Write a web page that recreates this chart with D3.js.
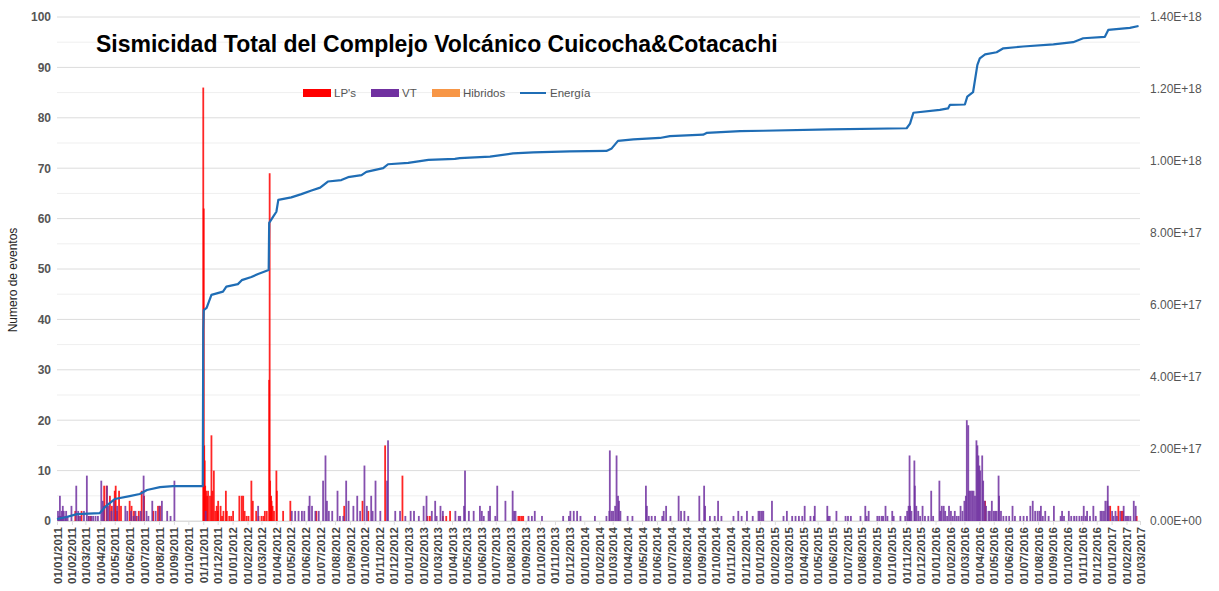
<!DOCTYPE html>
<html lang="es">
<head>
<meta charset="UTF-8">
<script src="https://d3js.org/d3.v7.min.js"></script>
<style>
  body { margin: 0; background: #fff; }
  text { font-family: "Liberation Sans", Arial, sans-serif; }
</style>
</head>
<body>
<div id="chart"></div>
<script>
// ---- data ----
var title = "Sismicidad Total del Complejo Volcánico Cuicocha&Cotacachi";
var seriesNames = ["LP's", "VT", "Hibridos", "Energía"];
var seriesColors = ["#ff0000", "#7030a0", "#f79646", "#1f6db5"];
var leftTicks = [0, 10, 20, 30, 40, 50, 60, 70, 80, 90, 100];
var rightTicks = [0, 2e17, 4e17, 6e17, 8e17, 1e18, 1.2e18, 1.4e18];
var dateStart = "2011-01-01", dateEnd = "2017-03-01";

// daily LP events [date, count]
var lpData = [
  ["2011-02-08",2],["2011-02-15",1],["2011-02-21",2],["2011-03-08",1],["2011-03-12",1],
  ["2011-04-09",7],["2011-04-14",7],["2011-04-21",5],["2011-04-25",3],["2011-05-01",6],
  ["2011-05-03",7],["2011-05-06",2],["2011-05-10",6],["2011-05-14",3],["2011-06-01",4],
  ["2011-06-05",3],["2011-06-10",2],["2011-06-15",1],["2011-06-20",2],["2011-06-26",6],
  ["2011-07-01",5],["2011-07-20",2],["2011-07-30",3],["2011-08-03",3],
  ["2011-11-01",86],["2011-11-02",62],["2011-11-03",15],["2011-11-04",12],["2011-11-05",7],
  ["2011-11-07",6],["2011-11-09",5],["2011-11-11",6],["2011-11-15",5],["2011-11-18",17],
  ["2011-11-20",6],["2011-11-23",10],["2011-11-26",2],["2011-11-29",3],["2011-12-01",2],
  ["2011-12-02",4],["2011-12-07",3],["2011-12-10",1],["2011-12-13",2],["2011-12-18",6],
  ["2011-12-20",2],["2011-12-25",1],["2011-12-29",1],["2012-01-02",2],["2012-01-15",5],
  ["2012-01-20",5],["2012-01-23",5],["2012-01-26",2],["2012-01-30",1],["2012-02-03",1],
  ["2012-02-09",8],["2012-02-12",4],["2012-02-19",2],["2012-02-24",1],["2012-03-01",1],
  ["2012-03-05",1],["2012-03-08",2],["2012-03-12",2],["2012-03-17",28],["2012-03-18",69],
  ["2012-03-19",8],["2012-03-21",5],["2012-03-22",4],["2012-03-24",3],["2012-03-27",2],
  ["2012-04-01",10],["2012-04-02",6],["2012-04-15",2],["2012-04-30",4],["2012-06-23",2],
  ["2012-08-20",3],["2012-09-27",4],["2012-10-09",2],["2012-11-13",15],["2012-12-19",9],
  ["2013-02-09",1],["2013-02-14",1],["2013-03-13",1],["2013-03-20",1],["2013-03-28",2],
  ["2013-08-17",1],["2013-08-20",1],["2013-08-24",1],["2013-08-27",1],
  ["2016-04-13",4],["2016-12-29",3],["2017-01-15",3],["2017-01-22",2],["2017-01-25",2],
  ["2017-02-22",1]
];

// daily VT events [date, count]
var vtData = [
  ["2011-01-02",2],["2011-01-04",1],["2011-01-06",5],["2011-01-08",1],["2011-01-10",2],
  ["2011-01-12",3],["2011-01-14",2],["2011-01-17",1],["2011-01-19",2],["2011-01-22",1],
  ["2011-01-30",3],["2011-02-09",7],["2011-02-13",2],["2011-02-17",1],["2011-02-25",2],
  ["2011-03-03",9],["2011-03-07",1],["2011-03-12",1],["2011-03-16",1],["2011-03-21",1],
  ["2011-03-26",1],["2011-04-02",8],["2011-04-05",4],["2011-04-07",3],["2011-04-14",7],
  ["2011-04-17",3],["2011-04-23",2],["2011-04-28",4],["2011-05-05",3],["2011-05-22",3],
  ["2011-05-26",2],["2011-06-03",2],["2011-06-08",1],["2011-06-12",2],["2011-06-18",1],
  ["2011-06-23",2],["2011-06-29",9],["2011-07-05",2],["2011-07-09",1],["2011-07-17",4],
  ["2011-07-24",2],["2011-08-01",3],["2011-08-06",4],["2011-08-17",2],["2011-08-24",1],
  ["2011-09-01",8],["2011-11-05",2],["2012-02-22",3],
  ["2012-05-02",2],["2012-05-09",2],["2012-05-16",2],["2012-05-23",2],["2012-05-28",2],
  ["2012-06-06",3],["2012-06-08",5],["2012-06-13",3],["2012-06-20",2],["2012-06-27",2],
  ["2012-07-06",8],["2012-07-11",13],["2012-07-14",4],["2012-07-18",2],["2012-07-25",2],
  ["2012-08-05",6],["2012-08-10",1],["2012-08-17",1],["2012-08-23",8],["2012-08-28",4],
  ["2012-09-07",3],["2012-09-15",5],["2012-09-21",2],["2012-09-30",11],["2012-10-05",3],
  ["2012-10-14",5],["2012-10-17",2],["2012-10-23",8],["2012-11-02",2],["2012-11-16",8],
  ["2012-11-18",16],["2012-12-03",2],["2012-12-13",2],["2012-12-24",1],
  ["2013-01-04",2],["2013-01-11",2],["2013-01-21",1],["2013-01-31",3],["2013-02-06",5],
  ["2013-02-17",2],["2013-02-24",4],["2013-02-27",1],["2013-03-07",3],["2013-03-12",2],
  ["2013-04-07",2],["2013-04-14",1],["2013-04-17",1],["2013-04-25",3],["2013-04-27",10],
  ["2013-05-05",2],["2013-05-15",2],["2013-05-28",3],["2013-06-01",2],["2013-06-05",1],
  ["2013-06-15",2],["2013-06-18",3],["2013-06-29",1],["2013-07-03",7],["2013-07-20",4],
  ["2013-08-04",6],["2013-08-07",2],["2013-08-10",2],["2013-09-06",1],["2013-09-13",1],
  ["2013-09-19",2],["2013-10-04",1],["2013-11-17",1],["2013-11-29",1],["2013-12-02",2],
  ["2013-12-09",2],["2013-12-16",2],["2013-12-23",1],["2014-01-22",1],
  ["2014-02-15",1],["2014-02-21",2],["2014-02-22",14],["2014-02-26",2],["2014-03-01",2],
  ["2014-03-05",3],["2014-03-08",13],["2014-03-11",5],["2014-03-13",4],["2014-03-16",2],
  ["2014-03-31",1],["2014-04-10",1],["2014-05-08",7],["2014-05-10",3],["2014-05-14",1],
  ["2014-05-20",1],["2014-05-27",1],["2014-06-11",1],["2014-06-14",2],["2014-06-19",3],
  ["2014-06-28",1],["2014-07-15",5],["2014-07-20",2],["2014-07-27",2],["2014-08-04",1],
  ["2014-08-27",5],["2014-09-06",7],["2014-09-08",3],["2014-09-18",1],["2014-09-28",1],
  ["2014-10-05",4],["2014-10-12",1],["2014-11-06",1],["2014-11-16",2],["2014-11-23",1],
  ["2014-12-04",2],["2014-12-16",1],["2014-12-28",2],["2014-12-31",2],["2015-01-04",2],
  ["2015-01-07",2],["2015-01-25",4],["2015-02-18",1],["2015-02-25",2],["2015-03-08",1],
  ["2015-03-15",1],["2015-03-22",1],["2015-03-29",1],["2015-04-03",3],["2015-04-15",1],
  ["2015-04-22",1],["2015-04-24",3],["2015-05-20",3],["2015-05-22",1],["2015-05-25",1],
  ["2015-06-08",2],["2015-06-27",1],["2015-07-02",1],["2015-07-08",1],["2015-07-28",1],
  ["2015-08-07",3],["2015-08-10",1],["2015-08-14",2],["2015-09-01",1],["2015-09-05",1],
  ["2015-09-10",1],["2015-09-13",1],["2015-09-18",3],["2015-09-22",1],["2015-10-02",2],
  ["2015-10-05",1],["2015-10-19",1],["2015-10-29",1],["2015-11-02",2],["2015-11-05",3],
  ["2015-11-07",13],["2015-11-08",3],["2015-11-11",2],["2015-11-17",12],["2015-11-18",7],
  ["2015-11-21",3],["2015-11-25",2],["2015-11-29",1],["2015-12-04",3],["2015-12-09",1],
  ["2015-12-16",1],["2015-12-22",6],["2015-12-26",1],
  ["2016-01-08",8],["2016-01-10",2],["2016-01-13",3],["2016-01-17",3],["2016-01-20",2],
  ["2016-01-24",1],["2016-01-28",3],["2016-02-01",2],["2016-02-05",1],["2016-02-09",2],
  ["2016-02-13",1],["2016-02-17",1],["2016-02-21",3],["2016-02-25",2],["2016-02-29",4],
  ["2016-03-03",5],["2016-03-05",20],["2016-03-08",19],["2016-03-10",6],["2016-03-13",6],
  ["2016-03-16",6],["2016-03-19",6],["2016-03-22",5],["2016-03-25",16],["2016-03-27",15],
  ["2016-03-29",13],["2016-03-31",11],["2016-04-02",10],["2016-04-06",13],["2016-04-08",8],
  ["2016-04-11",4],["2016-04-14",3],["2016-04-19",2],["2016-04-22",2],["2016-04-26",4],
  ["2016-04-30",2],["2016-05-03",2],["2016-05-06",2],["2016-05-10",9],["2016-05-11",5],
  ["2016-05-15",2],["2016-05-20",1],["2016-05-26",1],["2016-06-01",1],["2016-06-08",3],
  ["2016-06-13",1],["2016-06-24",1],["2016-07-01",1],["2016-07-08",1],["2016-07-15",3],
  ["2016-07-20",4],["2016-07-25",2],["2016-07-30",2],["2016-08-03",2],["2016-08-06",3],
  ["2016-08-10",1],["2016-08-15",2],["2016-08-22",1],["2016-09-02",3],["2016-09-16",1],
  ["2016-09-19",2],["2016-09-23",1],["2016-10-03",2],["2016-10-08",1],["2016-10-14",1],
  ["2016-10-19",1],["2016-10-25",1],["2016-10-30",1],["2016-11-03",3],["2016-11-07",1],
  ["2016-11-10",2],["2016-11-16",1],["2016-11-23",3],["2016-11-28",1],["2016-12-08",2],
  ["2016-12-11",2],["2016-12-15",2],["2016-12-18",4],["2016-12-22",4],["2016-12-23",7],
  ["2016-12-25",3],["2017-01-01",2],["2017-01-04",1],["2017-01-08",2],["2017-01-11",1],
  ["2017-01-18",2],["2017-01-25",3],["2017-01-29",1],["2017-02-01",1],["2017-02-04",1],
  ["2017-02-08",1],["2017-02-15",4],["2017-02-19",3]
];

var hibData = [];

// cumulative energy [date, value]
var energyDates = [
  "2011-01-01","2011-01-21","2011-02-11","2011-03-31","2011-04-11","2011-05-01","2011-06-01",
  "2011-06-22","2011-07-07","2011-08-03","2011-08-30","2011-10-31","2011-11-01","2011-11-02",
  "2011-11-08","2011-11-18","2011-12-12","2011-12-19","2012-01-12","2012-01-20","2012-02-09",
  "2012-02-23","2012-03-16","2012-03-17","2012-03-25","2012-04-01","2012-04-05","2012-05-02",
  "2012-05-23","2012-06-13","2012-07-01","2012-07-17","2012-08-14","2012-08-28","2012-09-25",
  "2012-10-05","2012-11-09","2012-11-19","2012-12-31","2013-02-11","2013-04-07","2013-04-17",
  "2013-06-19","2013-08-06","2013-09-17","2013-12-02","2014-02-16","2014-02-27","2014-03-12",
  "2014-04-13","2014-06-07","2014-06-28","2014-09-05","2014-09-12","2014-11-21","2015-01-08",
  "2015-05-27","2015-11-02","2015-11-09","2015-11-16","2016-01-10","2016-01-27","2016-01-31",
  "2016-03-02","2016-03-07","2016-03-19","2016-03-28","2016-04-02","2016-04-13","2016-05-07",
  "2016-05-21","2016-07-01","2016-09-02","2016-10-13","2016-11-03","2016-12-18","2016-12-25",
  "2017-02-08","2017-02-26"
];
var energyValues = [
  5.6e15, 11e15, 19e15, 22e15, 39e15, 61e15, 69e15,
  75e15, 86e15, 94e15, 97e15, 97e15, 531e15, 586e15,
  592e15, 628e15, 637e15, 651e15, 658e15, 669e15, 678e15,
  686e15, 697e15, 828e15, 845e15, 859e15, 892e15, 899e15,
  908e15, 918e15, 926e15, 943e15, 947e15, 955e15, 961e15,
  970e15, 980e15, 991e15, 995e15, 1003e15, 1006e15, 1008e15,
  1012e15, 1021e15, 1024e15, 1027e15, 1028e15, 1035e15, 1056e15,
  1060e15, 1064e15, 1069e15, 1073e15, 1078e15, 1083e15, 1084e15,
  1088e15, 1091e15, 1104e15, 1134e15, 1142e15, 1146e15, 1156e15,
  1157e15, 1179e15, 1191e15, 1267e15, 1285e15, 1296e15, 1302e15,
  1313e15, 1318e15, 1324e15, 1330e15, 1341e15, 1345e15, 1364e15,
  1370e15, 1375e15
];

// ---- layout ----
var W = 1219, H = 591;
var margin = {top: 17, right: 79, bottom: 70, left: 57};
var width = W - margin.left - margin.right,
    height = H - margin.top - margin.bottom;

var parse = d3.timeParse("%Y-%m-%d");

var svg = d3.select("#chart").append("svg")
  .attr("width", W).attr("height", H);
var g = svg.append("g")
  .attr("transform", "translate(" + margin.left + "," + margin.top + ")");

var x = d3.scaleTime()
  .domain([parse(dateStart), parse(dateEnd)])
  .range([0, width]);
var y = d3.scaleLinear().domain([0, 100]).range([height, 0]);
var y2 = d3.scaleLinear().domain([0, 1.4e18]).range([height, 0]);

// gridlines (minor every 5, major every 10)
g.append("g").selectAll("line")
  .data(d3.range(5, 100, 10))
  .enter().append("line")
    .attr("x1", 0).attr("x2", width)
    .attr("y1", function(d) { return y(d); })
    .attr("y2", function(d) { return y(d); })
    .style("stroke", "#efefef");
g.append("g").selectAll("line")
  .data(leftTicks)
  .enter().append("line")
    .attr("x1", 0).attr("x2", width)
    .attr("y1", function(d) { return y(d); })
    .attr("y2", function(d) { return y(d); })
    .style("stroke", "#dcdcdc");

// left axis
var yAxis = g.append("g")
  .call(d3.axisLeft(y).tickValues(leftTicks).tickSize(0).tickPadding(6));
yAxis.select(".domain").remove();
yAxis.selectAll("text")
  .style("font-size", "12px").style("font-weight", "bold").style("fill", "#555");

// right axis
function sci(v) {
  var s = d3.format(".2e")(v).toUpperCase();
  return s.replace(/E([+-])(\d)$/, "E$10$2");
}
var yAxis2 = g.append("g")
  .attr("transform", "translate(" + width + ",0)")
  .call(d3.axisRight(y2).tickValues(rightTicks).tickSize(0).tickPadding(10).tickFormat(sci));
yAxis2.select(".domain").remove();
yAxis2.selectAll("text")
  .style("font-size", "12px").style("fill", "#555");

// x axis, one label per month
var months = d3.timeMonth.range(parse(dateStart), d3.timeDay.offset(parse(dateEnd), 1));
var xAxis = g.append("g")
  .attr("transform", "translate(0," + height + ")")
  .call(d3.axisBottom(x).tickValues(months).tickSize(4).tickFormat(d3.timeFormat("%d/%m/%Y")));
xAxis.select(".domain").style("stroke", "#dcdcdc");
xAxis.selectAll(".tick line").style("stroke", "#dcdcdc");
xAxis.selectAll("text")
  .attr("transform", "rotate(-90)")
  .attr("x", -6).attr("y", 0).attr("dy", "0.35em")
  .style("text-anchor", "end")
  .style("font-size", "11.5px").style("font-weight", "bold").style("fill", "#444");

// axis title
svg.append("text")
  .attr("transform", "translate(17,280) rotate(-90)")
  .style("text-anchor", "middle")
  .style("font-size", "12px").style("fill", "#222")
  .text("Numero de eventos");

// bars
var barW = 1.8;
function drawBars(data, color, shift) {
  g.append("g").selectAll("rect")
    .data(data)
    .enter().append("rect")
      .attr("x", function(d) { return x(parse(d[0])) - barW / 2 + shift; })
      .attr("y", function(d) { return y(d[1]); })
      .attr("width", barW)
      .attr("height", function(d) { return height - y(d[1]); })
      .style("fill", color)
      .style("opacity", 0.85);
}
drawBars(lpData, seriesColors[0], 0);
drawBars(vtData, seriesColors[1], 0.5);
drawBars(hibData, seriesColors[2], 1);

// energy line
var energy = energyDates.map(function(d, i) { return [parse(d), energyValues[i]]; });
var line = d3.line()
  .x(function(d) { return x(d[0]); })
  .y(function(d) { return y2(d[1]); });
g.append("path")
  .datum(energy)
  .attr("d", line)
  .style("fill", "none")
  .style("stroke", seriesColors[3])
  .style("stroke-width", 2.2)
  .style("stroke-linejoin", "round");

// title
svg.append("text")
  .attr("x", 96).attr("y", 52)
  .style("font-size", "23px").style("font-weight", "bold").style("fill", "#000")
  .text(title);

// legend
var legendX = [303, 371, 432, 520];
var legend = svg.append("g");
seriesNames.forEach(function(name, i) {
  if (i < 3) {
    legend.append("rect")
      .attr("x", legendX[i]).attr("y", 89)
      .attr("width", 28).attr("height", 8)
      .style("fill", seriesColors[i]);
  } else {
    legend.append("line")
      .attr("x1", legendX[i]).attr("x2", legendX[i] + 26)
      .attr("y1", 93).attr("y2", 93)
      .style("stroke", seriesColors[i]).style("stroke-width", 2);
  }
  legend.append("text")
    .attr("x", legendX[i] + (i < 3 ? 31 : 30)).attr("y", 97)
    .style("font-size", "11.5px").style("fill", "#555")
    .text(name);
});
</script>
</body>
</html>
